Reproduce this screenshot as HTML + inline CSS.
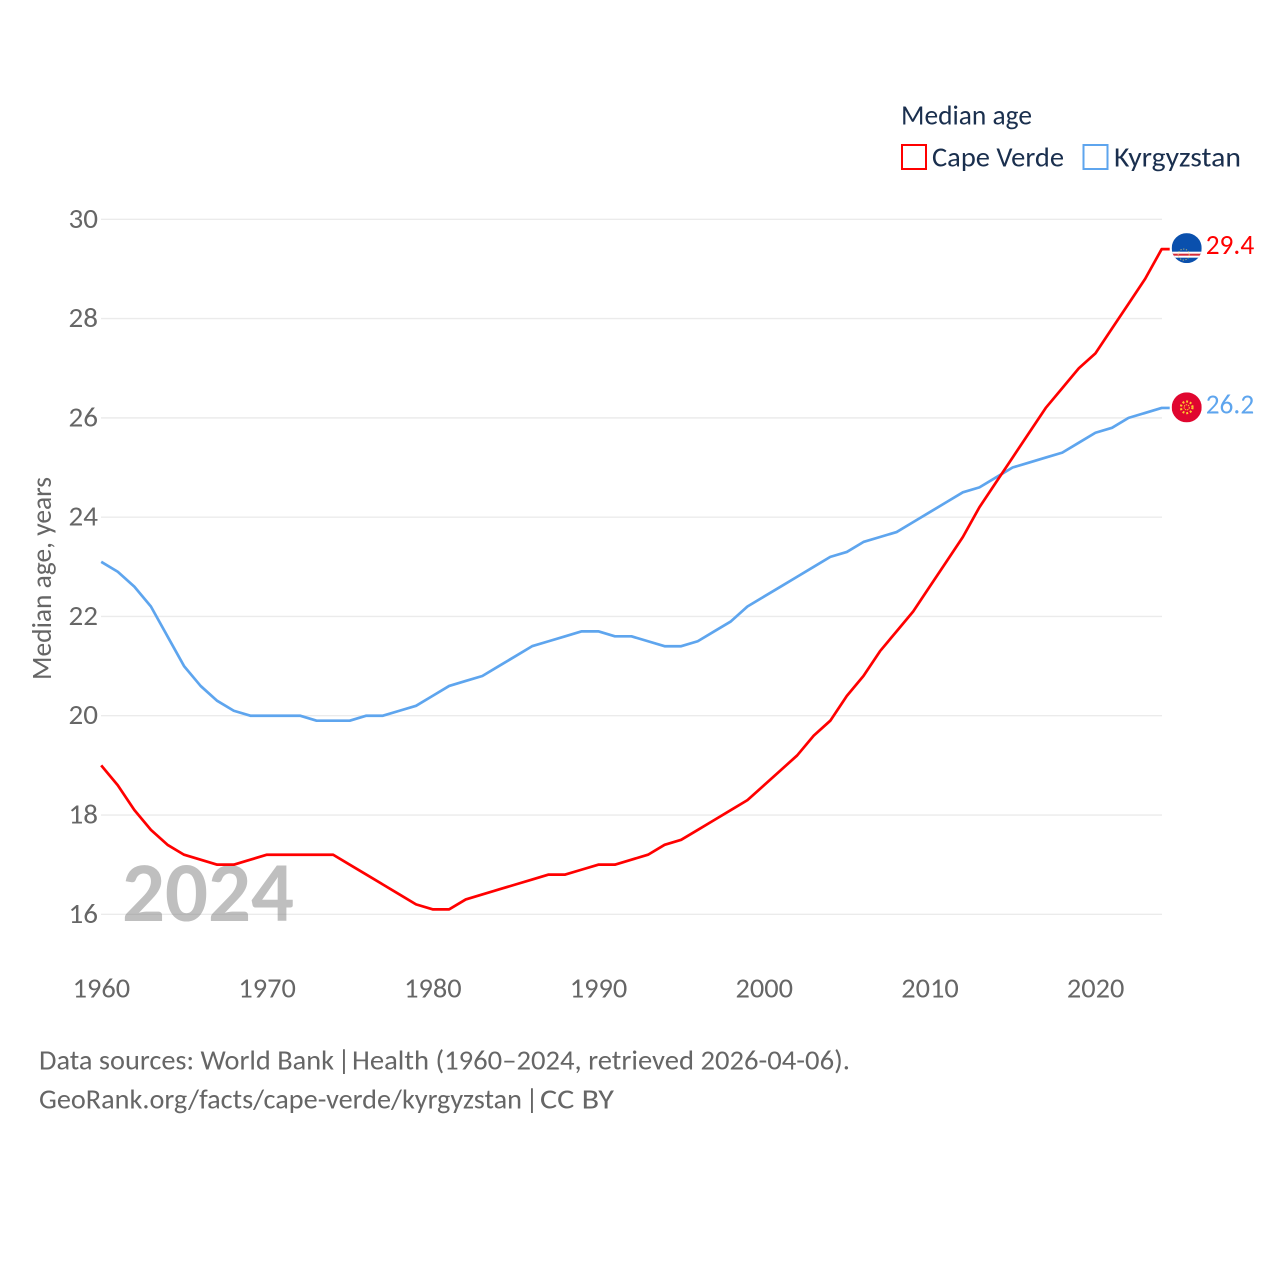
<!DOCTYPE html>
<html lang="en">
<head>
<meta charset="utf-8">
<title>Median age: Cape Verde and Kyrgyzstan</title>
<style>
html,body{margin:0;padding:0;background:#fff;}
svg{display:block;font-family:"Carlito","Lato","Liberation Sans",sans-serif;}
</style>
</head>
<body>
<svg id="chart" width="1280" height="1280" viewBox="0 0 1280 1280" xmlns="http://www.w3.org/2000/svg">
  <rect width="1280" height="1280" fill="#fff"/>
  <defs>
    <clipPath id="flag-clip"><circle cx="0" cy="0" r="15"/></clipPath>
  </defs>
  <g id="grid"></g>
  <g id="y-ticks"></g>
  <g id="x-ticks"></g>
  <text transform="translate(51,680) rotate(-90)" font-size="27.5" fill="#666" textLength="203" lengthAdjust="spacingAndGlyphs">Median age, years</text>
  <text x="122" y="921" font-size="85" font-weight="700" fill="#808080" fill-opacity="0.5" textLength="172" lengthAdjust="spacingAndGlyphs">2024</text>
  <g id="series"></g>
  <g id="flags"></g>

  <g>
    <text x="901" y="124.5" font-size="28" fill="#1a2f4e" textLength="131" lengthAdjust="spacingAndGlyphs">Median age</text>
    <rect x="902" y="145" width="24" height="24" fill="none" stroke="#ff0000" stroke-width="2"/>
    <text x="932" y="166.5" font-size="28" fill="#1a2f4e" textLength="132" lengthAdjust="spacingAndGlyphs">Cape Verde</text>
    <rect x="1083.5" y="145" width="24" height="24" fill="none" stroke="#5ea5ee" stroke-width="2"/>
    <text x="1114" y="166.5" font-size="28" fill="#1a2f4e" textLength="127" lengthAdjust="spacingAndGlyphs">Kyrgyzstan</text>
  </g>

  <g font-size="28" fill="#666">
    <text x="39" y="1069.5" textLength="295" lengthAdjust="spacingAndGlyphs">Data sources: World Bank</text>
    <text x="337.5" y="1069.5">|</text>
    <text x="352" y="1069.5" textLength="498" lengthAdjust="spacingAndGlyphs">Health (1960–2024, retrieved 2026-04-06).</text>
  </g>
  <g font-size="28" fill="#666">
    <text x="39" y="1108.5" textLength="483" lengthAdjust="spacingAndGlyphs">GeoRank.org/facts/cape-verde/kyrgyzstan</text>
    <text x="525.5" y="1108.5">|</text>
    <text x="540" y="1108.5" textLength="74" lengthAdjust="spacingAndGlyphs">CC BY</text>
  </g>
</svg>
<script>
const firstYear = 1960;
const yTickValues = [16, 18, 20, 22, 24, 26, 28, 30];
const xTickValues = [1960, 1970, 1980, 1990, 2000, 2010, 2020];
const capeVerdeValues = [19, 18.6, 18.1, 17.7, 17.4, 17.2, 17.1, 17, 17, 17.1, 17.2, 17.2, 17.2, 17.2, 17.2, 17, 16.8, 16.6, 16.4, 16.2, 16.1, 16.1, 16.3, 16.4, 16.5, 16.6, 16.7, 16.8, 16.8, 16.9, 17, 17, 17.1, 17.2, 17.4, 17.5, 17.7, 17.9, 18.1, 18.3, 18.6, 18.9, 19.2, 19.6, 19.9, 20.4, 20.8, 21.3, 21.7, 22.1, 22.6, 23.1, 23.6, 24.2, 24.7, 25.2, 25.7, 26.2, 26.6, 27, 27.3, 27.8, 28.3, 28.8, 29.4];
const kyrgyzstanValues = [23.1, 22.9, 22.6, 22.2, 21.6, 21, 20.6, 20.3, 20.1, 20, 20, 20, 20, 19.9, 19.9, 19.9, 20, 20, 20.1, 20.2, 20.4, 20.6, 20.7, 20.8, 21, 21.2, 21.4, 21.5, 21.6, 21.7, 21.7, 21.6, 21.6, 21.5, 21.4, 21.4, 21.5, 21.7, 21.9, 22.2, 22.4, 22.6, 22.8, 23, 23.2, 23.3, 23.5, 23.6, 23.7, 23.9, 24.1, 24.3, 24.5, 24.6, 24.8, 25, 25.1, 25.2, 25.3, 25.5, 25.7, 25.8, 26, 26.1, 26.2];

const NS = 'http://www.w3.org/2000/svg';
function xScale(year) { return 101.2 + (year - 1960) * (1161.7 - 101.2) / 64; }
function yScale(v) { return 914.3 - (v - 16) * (914.3 - 219.3) / 14; }
function make(tag, attrs, parent) {
  const el = document.createElementNS(NS, tag);
  for (const k in attrs) el.setAttribute(k, attrs[k]);
  parent.appendChild(el);
  return el;
}

const gridGroup = document.getElementById('grid');
const yTickGroup = document.getElementById('y-ticks');
yTickValues.forEach(function (v) {
  const line = make('line', { x1: 101, x2: 1162, y1: yScale(v), y2: yScale(v), stroke: '#ebebeb', 'stroke-width': 1.4 }, gridGroup);
  
  
  const t = make('text', { x: 98, y: yScale(v) + 8.5, 'text-anchor': 'end', 'font-size': 28, fill: '#666', textLength: 29.5, lengthAdjust: 'spacingAndGlyphs' }, yTickGroup);
  t.textContent = String(v);
  
  
});

const xTickGroup = document.getElementById('x-ticks');
xTickValues.forEach(function (yr) {
  const t = make('text', { x: xScale(yr) - 28.5, y: 997.5, 'font-size': 28, fill: '#666', textLength: 57.5, lengthAdjust: 'spacingAndGlyphs' }, xTickGroup);
  t.textContent = String(yr);
  
  
});

function linePoints(values) {
  const pts = values.map(function (v, i) { return xScale(firstYear + i).toFixed(2) + ',' + yScale(v).toFixed(2); });
  const last = values[values.length - 1];
  pts.push((xScale(firstYear + values.length - 1) + 8).toFixed(2) + ',' + yScale(last).toFixed(2));
  return pts.join(' ');
}

const seriesGroup = document.getElementById('series');
const blueLine = make('polyline', { points: linePoints(kyrgyzstanValues), fill: 'none', stroke: '#5ea5ee', 'stroke-width': 2.7, 'stroke-linejoin': 'round' }, seriesGroup);


const redLine = make('polyline', { points: linePoints(capeVerdeValues), fill: 'none', stroke: '#ff0000', 'stroke-width': 2.7, 'stroke-linejoin': 'round' }, seriesGroup);



const flagsGroup = document.getElementById('flags');
const flagX = xScale(2024) + 25;

/* Cape Verde marker */
const cvY = yScale(capeVerdeValues[capeVerdeValues.length - 1]) - 1;
const cvFlag = make('g', { transform: 'translate(' + flagX + ',' + cvY + ')', 'clip-path': 'url(#flag-clip)' }, flagsGroup);


make('rect', { x: -15, y: -15, width: 30, height: 30, fill: '#0a50ad' }, cvFlag);
make('rect', { x: -15, y: 3.6, width: 30, height: 6, fill: '#fff' }, cvFlag);
make('rect', { x: -15, y: 5.6, width: 30, height: 2, fill: '#d62c3a' }, cvFlag);
make('circle', { cx: -3, cy: 6.5, r: 5.5, fill: 'none', stroke: '#e8cf6a', 'stroke-width': 1, 'stroke-dasharray': '1.2 1.6', 'stroke-opacity': 0.8 }, cvFlag);

const cvLabel = make('text', { x: flagX + 19, y: cvY + 6, 'font-size': 28, fill: '#ff0000', textLength: 48.5, lengthAdjust: 'spacingAndGlyphs' }, flagsGroup);
cvLabel.textContent = capeVerdeValues[capeVerdeValues.length - 1].toFixed(1);



/* Kyrgyzstan marker */
const kgY = yScale(kyrgyzstanValues[kyrgyzstanValues.length - 1]) - 0.6;
const kgFlag = make('g', { transform: 'translate(' + flagX + ',' + kgY + ')', 'clip-path': 'url(#flag-clip)' }, flagsGroup);


make('rect', { x: -15, y: -15, width: 30, height: 30, fill: '#e0062f' }, kgFlag);
make('circle', { cx: 0, cy: 0, r: 5.8, fill: 'none', stroke: '#ffc92e', 'stroke-width': 2.2, 'stroke-dasharray': '1.9 1.9' }, kgFlag);
make('circle', { cx: 0, cy: 0, r: 2.6, fill: '#e0062f', stroke: '#ffc92e', 'stroke-width': 1, 'stroke-dasharray': '1.4 0.8' }, kgFlag);

const kgLabel = make('text', { x: flagX + 19, y: kgY + 6, 'font-size': 28, fill: '#5ea5ee', textLength: 48.5, lengthAdjust: 'spacingAndGlyphs' }, flagsGroup);
kgLabel.textContent = kyrgyzstanValues[kyrgyzstanValues.length - 1].toFixed(1);


</script>
</body>
</html>
